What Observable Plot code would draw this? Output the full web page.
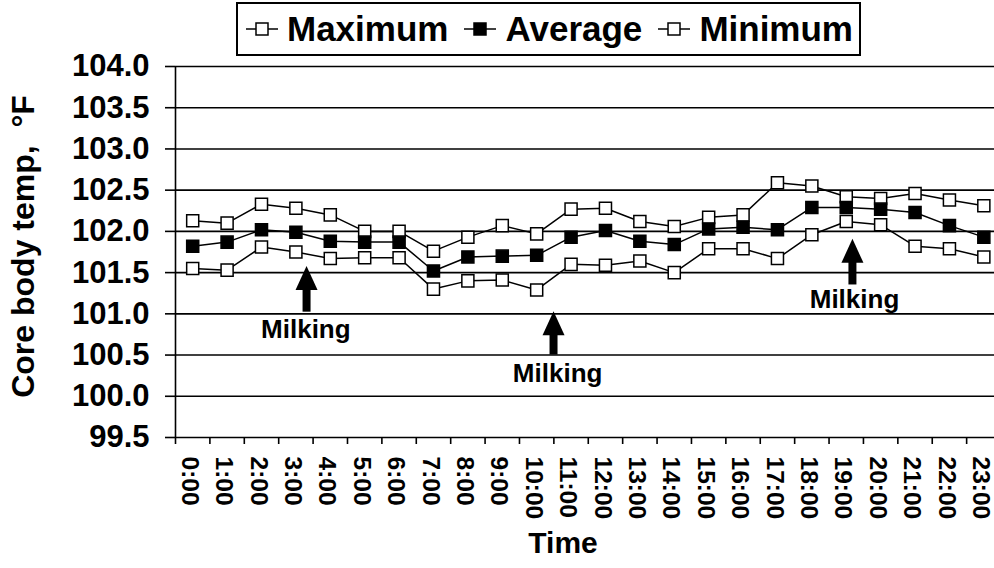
<!DOCTYPE html>
<html>
<head>
<meta charset="utf-8">
<script src="https://cdn.jsdelivr.net/npm/d3@7"></script>
<script src="https://cdn.jsdelivr.net/npm/@observablehq/plot@0.6"></script>
<style>
  body { margin: 0; background: #fff; }
  #wrap { position: relative; width: 994px; height: 568px; font-family: "Liberation Sans", Arial, sans-serif; }
  #legend { position: absolute; left: 236px; top: 2px; width: 607px; height: 50px; padding: 0 6px 0 8px;
            border: 2px solid #000; display: flex; align-items: center; justify-content: space-between;
            background: #fff; font-weight: bold; font-size: 35px; color: #000; box-sizing: content-box; }
  .item { display: flex; align-items: center; white-space: nowrap; }
  .item svg { margin-right: 9px; }
</style>
</head>
<body>
<div id="wrap"><div id="chart"></div><div id="legend"></div></div>
<script>
// ---- data ----
const hourLabels = ["0:00","1:00","2:00","3:00","4:00","5:00","6:00","7:00","8:00","9:00","10:00","11:00",
                    "12:00","13:00","14:00","15:00","16:00","17:00","18:00","19:00","20:00","21:00","22:00","23:00"];
const maxTemp = [102.13,102.10,102.33,102.28,102.20,102.00,102.00,101.76,101.93,102.07,101.97,102.27,
                 102.28,102.12,102.06,102.17,102.20,102.59,102.55,102.42,102.40,102.46,102.38,102.31];
const avgTemp = [101.82,101.87,102.02,101.99,101.88,101.87,101.87,101.52,101.69,101.70,101.71,101.93,
                 102.01,101.88,101.84,102.03,102.05,102.02,102.29,102.29,102.27,102.23,102.07,101.93];
const minTemp = [101.55,101.53,101.81,101.75,101.67,101.68,101.68,101.30,101.40,101.41,101.29,101.60,
                 101.59,101.64,101.50,101.79,101.79,101.67,101.96,102.12,102.08,101.82,101.79,101.69];
const yTicks = [99.5,100.0,100.5,101.0,101.5,102.0,102.5,103.0,103.5,104.0];
const seriesNames = ["Maximum","Average","Minimum"];
const seriesFill = ["white","black","white"];

// "Milking" annotations (hour position, arrow tip / base temperature, label position)
const milkLabels = ["Milking","Milking","Milking"];
const milkHour = [3.31, 10.49, 19.18];
const milkTip = [101.58, 101.03, 101.91];
const milkBase = [101.02, 100.50, 101.35];
const milkLabelHour = [3.29, 10.61, 19.24];
const milkLabelTemp = [100.81, 100.28, 101.17];

const yTitle = "Core body temp,  \u00B0F";
const xTitle = "Time";

// ---- build tables ----
const data = hourLabels.map((label, i) => ({hour: i, label, max: maxTemp[i], avg: avgTemp[i], min: minTemp[i]}));
const halfTicks = hourLabels.map((_, i) => i - 0.5);
const milk = milkLabels.map((t, i) => ({t, h: milkHour[i], tip: milkTip[i], base: milkBase[i], lh: milkLabelHour[i], ly: milkLabelTemp[i]}));

const arrowHead = { draw(ctx) { ctx.moveTo(0, 0); ctx.lineTo(11, 24); ctx.lineTo(-11, 24); ctx.closePath(); } };

const chart = Plot.plot({
  width: 994, height: 568,
  marginLeft: 175, marginRight: 0, marginTop: 66, marginBottom: 131,
  style: {fontFamily: "Liberation Sans, Arial, sans-serif", background: "white", color: "black", overflow: "visible"},
  x: {domain: [-0.5, 23.31], axis: null},
  y: {domain: [99.5, 104], axis: null},
  marks: [
    Plot.ruleY(yTicks, {stroke: "black", strokeWidth: 1.6}),
    Plot.ruleX([-0.5], {y1: 99.5, y2: 104, stroke: "black", strokeWidth: 1.6}),
    Plot.axisY({ticks: yTicks, tickSize: 10, tickPadding: 16, strokeWidth: 1.6, tickFormat: d => d.toFixed(1),
                fontSize: 31, fontWeight: "bold", label: null}),
    Plot.axisX({ticks: halfTicks, tickSize: 7, strokeWidth: 1.6, tickFormat: () => "", label: null}),
    Plot.axisX({ticks: data.map(d => d.hour), tickSize: 0, tickPadding: 19, tickRotate: 90, dx: -3,
                tickFormat: i => hourLabels[i], fontSize: 24.5, fontWeight: "bold", label: null}),
    Plot.line(data, {x: "hour", y: "max", stroke: "black", strokeWidth: 1.5}),
    Plot.line(data, {x: "hour", y: "avg", stroke: "black", strokeWidth: 1.5}),
    Plot.line(data, {x: "hour", y: "min", stroke: "black", strokeWidth: 1.5}),
    Plot.dot(data, {x: "hour", y: "max", symbol: "square", r: 6.8, fill: seriesFill[0], stroke: "black", strokeWidth: 1.5}),
    Plot.dot(data, {x: "hour", y: "avg", symbol: "square", r: 6.8, fill: seriesFill[1], stroke: "black", strokeWidth: 1.5}),
    Plot.dot(data, {x: "hour", y: "min", symbol: "square", r: 6.8, fill: seriesFill[2], stroke: "black", strokeWidth: 1.5}),
    Plot.ruleX(milk, {x: "h", y1: "tip", y2: "base", insetTop: 20, stroke: "black", strokeWidth: 8}),
    Plot.dot(milk, {x: "h", y: "tip", symbol: arrowHead, r: 5, fill: "black", stroke: "none"}),
    Plot.text(milk, {x: "lh", y: "ly", text: "t", fontSize: 26, fontWeight: "bold", fill: "black", lineAnchor: "middle"}),
    Plot.text([yTitle], {text: d => d, frameAnchor: "left", textAnchor: "middle", lineAnchor: "middle",
                         rotate: -90, dx: -151.5, dy: -5.5, fontSize: 32, fontWeight: "bold", fill: "black"}),
    Plot.text([xTitle], {text: d => d, frameAnchor: "bottom", textAnchor: "middle", lineAnchor: "middle",
                         dx: -22, dy: 106, fontSize: 30, fontWeight: "bold", fill: "black"})
  ]
});
document.getElementById("chart").appendChild(chart);

// ---- legend ----
const legend = document.getElementById("legend");
seriesNames.forEach((name, i) => {
  const item = document.createElement("div");
  item.className = "item";
  item.innerHTML = `<svg width="32" height="16" viewBox="0 0 32 16"><line x1="0" y1="8" x2="32" y2="8" stroke="black" stroke-width="1.5"/>` +
    `<rect x="10" y="2" width="12" height="12" fill="${seriesFill[i]}" stroke="black" stroke-width="1.5"/></svg>`;
  const span = document.createElement("span");
  span.textContent = name;
  item.appendChild(span);
  legend.appendChild(item);
});
</script>
</body>
</html>
